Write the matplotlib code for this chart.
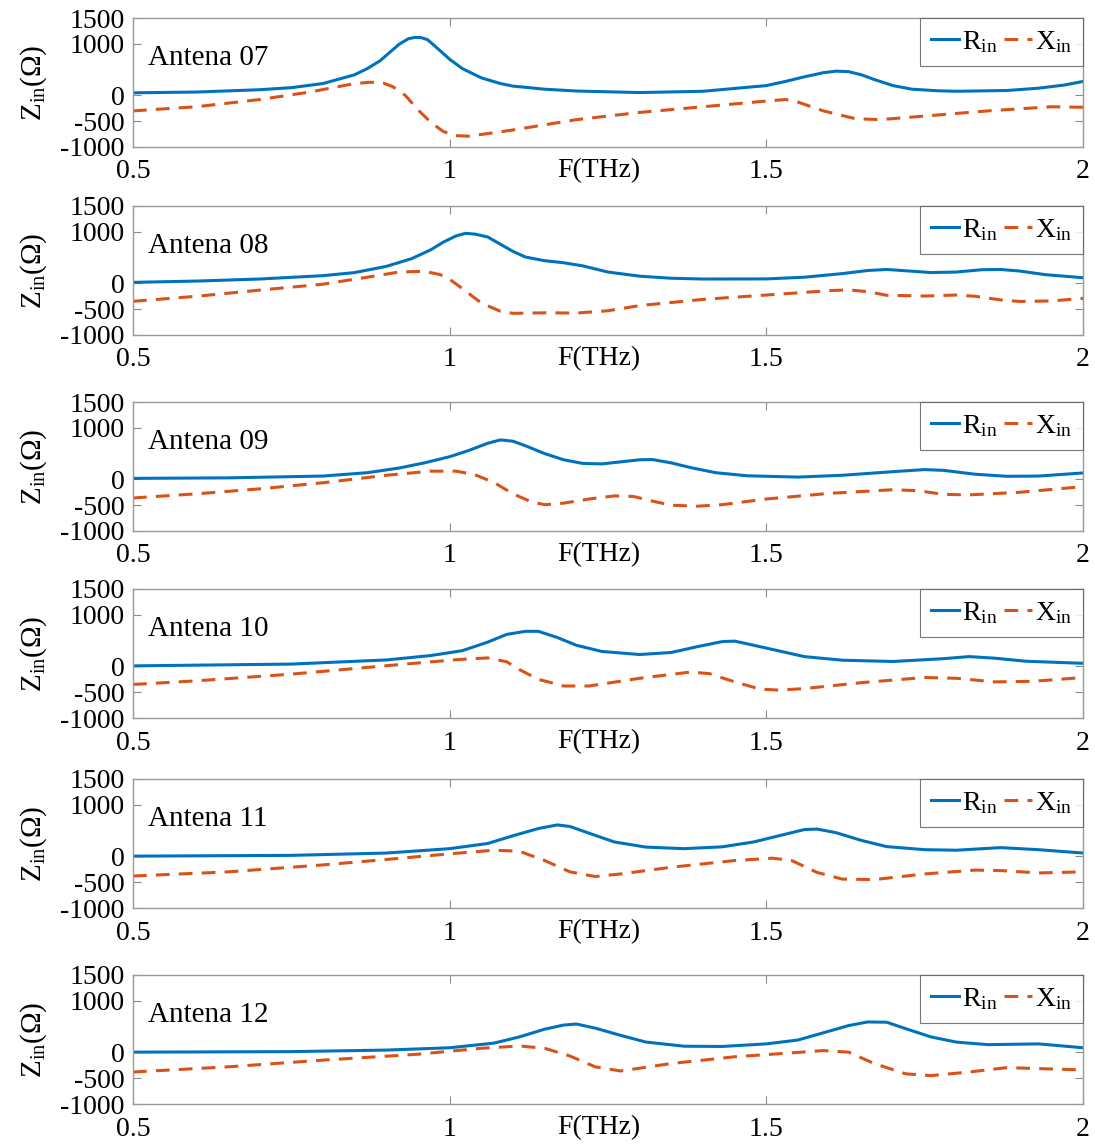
import matplotlib.pyplot as plt

plt.rcParams['font.family'] = ['Liberation Serif', 'DejaVu Serif']
plt.rcParams['mathtext.fontset'] = 'custom'
plt.rcParams['mathtext.rm'] = 'Liberation Serif'
plt.rcParams['mathtext.it'] = 'Liberation Serif:italic'
plt.rcParams['axes.unicode_minus'] = False

# frequency (THz), input resistance and reactance (ohm) for each antenna
f07 = [0.5, 0.6, 0.7, 0.75, 0.8, 0.85, 0.87, 0.89, 0.905, 0.92, 0.935, 0.946, 0.955, 0.965,
       0.98, 1.0, 1.02, 1.05, 1.08, 1.10, 1.15, 1.20, 1.30, 1.40, 1.50, 1.53, 1.56, 1.59,
       1.61, 1.63, 1.65, 1.67, 1.70, 1.73, 1.77, 1.80, 1.88, 1.93, 1.97, 2.0]
r07 = [50, 65, 110, 150, 230, 400, 520, 670, 830, 990, 1100, 1125, 1120, 1080,
       920, 700, 520, 340, 230, 180, 120, 85, 55, 80, 190, 270, 360, 440,
       470, 460, 400, 310, 190, 120, 90, 80, 95, 140, 200, 270]
fx07 = [0.5, 0.6, 0.7, 0.78, 0.85, 0.875, 0.895, 0.91, 0.93, 0.95, 0.97, 0.99, 1.01, 1.03,
        1.06, 1.10, 1.20, 1.30, 1.40, 1.49, 1.53, 1.55, 1.59, 1.64, 1.68, 1.75, 1.85,
        1.95, 2.0]
x07 = [-300, -220, -80, 67, 230, 255, 240, 170, 0, -280, -520, -700, -780, -790,
       -740, -670, -470, -330, -220, -120, -80, -130, -300, -450, -470, -400, -300,
       -220, -230]

f08 = [0.5, 0.6, 0.7, 0.8, 0.85, 0.9, 0.94, 0.97, 0.99, 1.01, 1.025, 1.04, 1.06, 1.08,
       1.10, 1.12, 1.15, 1.18, 1.21, 1.25, 1.30, 1.35, 1.40, 1.50, 1.56, 1.62, 1.66,
       1.69, 1.72, 1.76, 1.80, 1.84, 1.87, 1.90, 1.94, 2.0]
r08 = [20, 45, 85, 150, 210, 330, 480, 650, 800, 920, 970, 955, 900, 760,
       620, 510, 440, 400, 340, 220, 140, 100, 85, 87, 120, 190, 250,
       270, 245, 210, 220, 265, 270, 240, 170, 110]
fx08 = [0.5, 0.6, 0.7, 0.8, 0.87, 0.92, 0.96, 0.985, 1.0, 1.02, 1.05, 1.08, 1.10, 1.15,
        1.20, 1.25, 1.30, 1.40, 1.50, 1.60, 1.63, 1.66, 1.69, 1.75, 1.80, 1.83, 1.87,
        1.90, 1.95, 2.0]
x08 = [-347, -250, -130, -15, 120, 220, 235, 170, 80, -100, -380, -540, -580, -570,
       -575, -530, -430, -310, -225, -140, -125, -160, -230, -245, -225, -250, -320,
       -350, -340, -290]

f09 = [0.5, 0.65, 0.8, 0.87, 0.92, 0.96, 1.0, 1.03, 1.06, 1.08, 1.10, 1.12, 1.15, 1.18,
       1.21, 1.24, 1.27, 1.30, 1.32, 1.35, 1.38, 1.42, 1.47, 1.55, 1.62, 1.70, 1.75,
       1.78, 1.83, 1.88, 1.93, 2.0]
r09 = [20, 30, 65, 130, 220, 320, 440, 560, 700, 765, 740, 650, 500, 380,
       310, 300, 340, 380, 385, 320, 230, 130, 70, 45, 80, 150, 190,
       175, 100, 60, 65, 125]
fx09 = [0.5, 0.6, 0.7, 0.8, 0.9, 0.97, 1.01, 1.04, 1.07, 1.10, 1.13, 1.15, 1.18, 1.22,
        1.26, 1.29, 1.32, 1.35, 1.39, 1.43, 1.50, 1.60, 1.70, 1.74, 1.78, 1.82, 1.90, 2.0]
x09 = [-360, -280, -183, -65, 80, 160, 160, 90, -60, -280, -440, -490, -460, -380,
       -320, -330, -420, -500, -520, -490, -380, -270, -200, -220, -290, -300, -250, -140]

f10 = [0.5, 0.75, 0.9, 0.97, 1.02, 1.06, 1.09, 1.12, 1.14, 1.17, 1.20, 1.24, 1.30, 1.35,
       1.39, 1.43, 1.45, 1.48, 1.52, 1.56, 1.62, 1.70, 1.78, 1.82, 1.86, 1.91, 2.0]
r10 = [10, 45, 125, 210, 305, 470, 620, 680, 680, 560, 410, 290, 230, 270,
       380, 480, 490, 410, 300, 190, 120, 95, 150, 190, 160, 100, 60]
fx10 = [0.5, 0.6, 0.75, 0.9, 1.01, 1.06, 1.09, 1.11, 1.14, 1.18, 1.22, 1.30, 1.38, 1.41,
        1.45, 1.49, 1.52, 1.56, 1.65, 1.75, 1.80, 1.86, 1.92, 2.0]
x10 = [-350, -280, -150, 13, 130, 165, 90, -60, -250, -380, -380, -230, -110, -140,
       -300, -440, -460, -430, -315, -215, -230, -300, -290, -215]

f11 = [0.5, 0.75, 0.9, 1.0, 1.06, 1.10, 1.14, 1.17, 1.19, 1.22, 1.26, 1.31, 1.37, 1.43,
       1.48, 1.52, 1.56, 1.58, 1.61, 1.65, 1.69, 1.75, 1.80, 1.87, 1.93, 2.0]
r11 = [5, 20, 65, 150, 250, 400, 540, 610, 580, 450, 280, 180, 150, 185,
       280, 400, 520, 530, 460, 310, 190, 130, 120, 170, 130, 65]
fx11 = [0.5, 0.65, 0.8, 0.9, 1.0, 1.07, 1.11, 1.15, 1.19, 1.23, 1.27, 1.35, 1.45, 1.51,
        1.54, 1.58, 1.62, 1.67, 1.75, 1.83, 1.87, 1.93, 2.0]
x11 = [-380, -300, -165, -60, 50, 120, 100, -80, -300, -390, -340, -210, -80, -35,
       -80, -310, -440, -450, -340, -265, -275, -320, -300]

f12 = [0.5, 0.75, 0.9, 1.0, 1.07, 1.11, 1.15, 1.18, 1.20, 1.23, 1.27, 1.31, 1.37, 1.43,
       1.50, 1.55, 1.59, 1.63, 1.66, 1.69, 1.72, 1.76, 1.80, 1.85, 1.93, 2.0]
r12 = [5, 15, 45, 90, 180, 300, 450, 530, 550, 470, 330, 200, 120, 115,
       165, 240, 380, 520, 590, 585, 460, 300, 200, 150, 165, 90]
fx12 = [0.5, 0.65, 0.80, 0.95, 1.05, 1.11, 1.15, 1.19, 1.23, 1.27, 1.35, 1.45, 1.55, 1.59,
        1.63, 1.67, 1.72, 1.76, 1.82, 1.88, 2.0]
x12 = [-380, -280, -150, -35, 80, 125, 80, -70, -280, -360, -215, -85, 0, 35,
       5, -215, -415, -450, -380, -295, -340]

names = ['Antena 07', 'Antena 08', 'Antena 09', 'Antena 10', 'Antena 11', 'Antena 12']
freqs_r = [f07, f08, f09, f10, f11, f12]
res = [r07, r08, r09, r10, r11, r12]
freqs_x = [fx07, fx08, fx09, fx10, fx11, fx12]
reac = [x07, x08, x09, x10, x11, x12]

W, H = 1095, 1144
tops = [18, 206, 402, 589, 779, 975]
left, right, hgt = 133, 1083, 129

fig = plt.figure(figsize=(W / 100, H / 100), dpi=100)
fs = 20

for i in range(6):
    ax = fig.add_axes([left / W, 1 - (tops[i] + hgt) / H, (right - left) / W, hgt / H])
    ax.plot(freqs_r[i], res[i], color='#0072BD', lw=2.2, label='R$_{\\mathrm{in}}$')
    ax.plot(freqs_x[i], reac[i], color='#D95319', lw=2.2, dashes=(4.5, 3),
            label='X$_{\\mathrm{in}}$')
    ax.set_xlim(0.5, 2)
    ax.set_ylim(-1000, 1500)
    ax.set_xticks([0.5, 1, 1.5, 2])
    ax.set_xticklabels(['0.5', '1', '1.5', '2'])
    ax.set_yticks([-1000, -500, 0, 1000, 1500])
    ax.tick_params(direction='in', length=6, width=0.8, color='#8c8c8c',
                   labelsize=fs, top=True, right=True)
    ax.tick_params(axis='x', pad=9)
    ax.tick_params(axis='y', pad=6)
    for s in ax.spines.values():
        s.set_color('#9a9a9a')
        s.set_linewidth(1)
    ax.set_ylabel('Z$_{\\mathrm{in}}$(Ω)', fontsize=21, labelpad=8)
    ax.annotate('F(THz)', xy=(0.49, 0), xycoords='axes fraction', xytext=(0, -8),
                textcoords='offset points', fontsize=fs, ha='center', va='top')
    ax.text(0.016, 0.69, names[i], transform=ax.transAxes, fontsize=21,
            ha='left', va='center')
    leg = ax.legend(loc='upper right', ncol=2, fontsize=fs, frameon=True, fancybox=False,
                    borderaxespad=0, handlelength=1.0, handletextpad=0.1,
                    columnspacing=0.25, borderpad=0.4)
    leg.get_frame().set_edgecolor('#555555')
    leg.get_frame().set_linewidth(0.8)

fig.savefig('out.png', dpi=100)
